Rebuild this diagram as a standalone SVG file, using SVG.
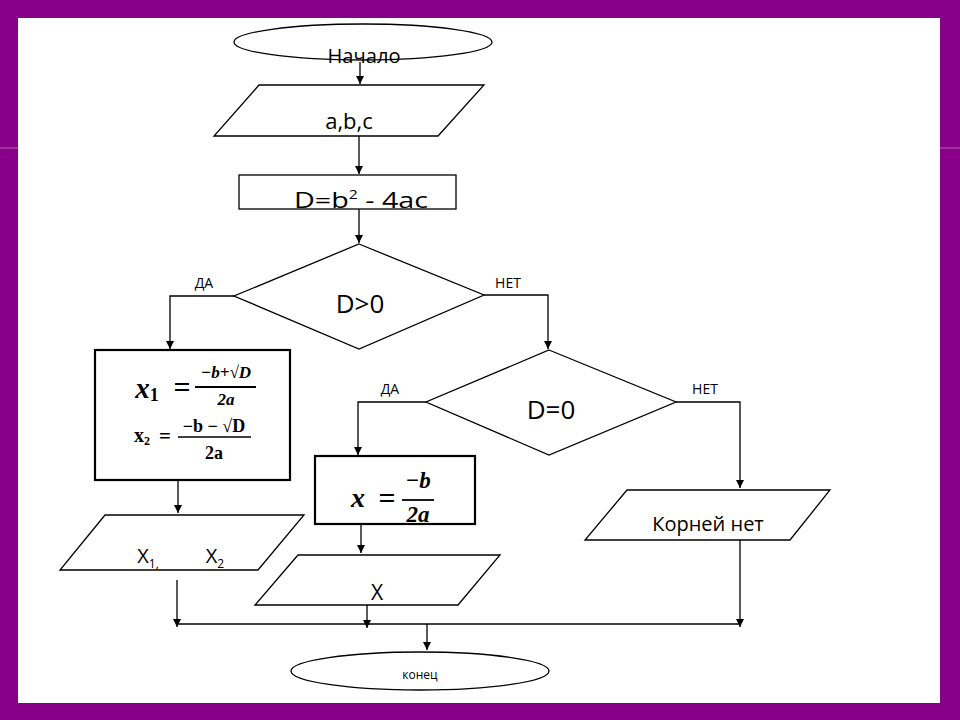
<svg xmlns="http://www.w3.org/2000/svg" width="960" height="720" viewBox="0 0 960 720">
<style>
.s{fill:#fff;stroke:#000;stroke-width:1.3}
.b{fill:#fff;stroke:#000;stroke-width:2.2}
.t{font-family:"Open Sans","Liberation Sans",sans-serif;fill:#000;text-anchor:middle}
.m{font-family:"Liberation Serif","DejaVu Serif",serif;font-weight:bold;fill:#000;text-anchor:middle}
.c{fill:none;stroke:#000;stroke-width:1.3}
</style>
<defs>
<marker id="ah" markerWidth="10" markerHeight="10" refX="8" refY="5" orient="auto" markerUnits="userSpaceOnUse">
<path d="M0,1 L8,5 L0,9 Z" fill="#000"/>
</marker>
</defs>
<rect x="0" y="0" width="960" height="720" fill="#880088"/>
<rect x="18" y="18" width="922" height="685" fill="#fff"/>
<line x1="0" y1="148" x2="18" y2="148" stroke="#b46ab4" stroke-width="1"/>
<line x1="940" y1="148" x2="960" y2="148" stroke="#b46ab4" stroke-width="1"/>

<g id="connectors">
<path class="c" d="M360,62 V84" marker-end="url(#ah)"/>
<path class="c" d="M359,136 V174" marker-end="url(#ah)"/>
<path class="c" d="M359,209 V243" marker-end="url(#ah)"/>
<path class="c" d="M234,296 H170 V349" marker-end="url(#ah)"/>
<path class="c" d="M484,295 H548 V349" marker-end="url(#ah)"/>
<path class="c" d="M178,480 V513" marker-end="url(#ah)"/>
<path class="c" d="M426,402 H358 V455" marker-end="url(#ah)"/>
<path class="c" d="M676,402 H740 V488" marker-end="url(#ah)"/>
<path class="c" d="M361,524 V553" marker-end="url(#ah)"/>
<path class="c" d="M177,580 V627" marker-end="url(#ah)"/>
<path class="c" d="M367,600 V628" marker-end="url(#ah)"/>
<path class="c" d="M740,540 V627" marker-end="url(#ah)"/>
<path class="c" d="M177,624 H740"/>
<path class="c" d="M427,624 V650" marker-end="url(#ah)"/>
<text class="t" x="204" y="288" font-size="14">ДА</text>
<text class="t" x="508" y="288" font-size="14">НЕТ</text>
<text class="t" x="390" y="394" font-size="14">ДА</text>
<text class="t" x="705" y="394" font-size="14">НЕТ</text>
</g>

<g id="start">
<ellipse class="s" cx="363" cy="42" rx="129" ry="18"/>
<text class="t" x="364" y="63" font-size="20" textLength="73" lengthAdjust="spacingAndGlyphs">Начало</text>
</g>

<g id="input">
<polygon class="s" points="259,85 484,85 438,136 214,136"/>
<text class="t" x="349" y="129" font-size="22">a,b,c</text>
</g>

<g id="calcD">
<rect class="s" x="239" y="175" width="217" height="34"/>
<text class="t" x="361" y="208" font-size="22" textLength="134" lengthAdjust="spacingAndGlyphs">D=b<tspan font-size="12" dy="-9">2</tspan><tspan dy="9"> - 4ac</tspan></text>
</g>

<g id="dec1">
<polygon class="s" points="359,244 484,295 359,349 234,296"/>
<text class="t" x="360" y="313" font-size="26">D&gt;0</text>
</g>

<g id="roots2">
<rect class="b" x="95" y="350" width="195" height="130"/>
<text class="m" x="147" y="398" font-size="29" font-style="italic">x<tspan font-size="18" font-style="normal" dy="3">1</tspan></text>
<text class="m" x="182" y="397" font-size="30">=</text>
<text class="m" x="226" y="378" font-size="17" font-style="italic">−b+√D</text>
<line x1="195" y1="387" x2="256" y2="387" stroke="#000" stroke-width="1.8"/>
<text class="m" x="226" y="405" font-size="17" font-style="italic">2a</text>
<text class="m" x="142" y="442" font-size="20">x<tspan font-size="12" dy="3">2</tspan></text>
<text class="m" x="165" y="443" font-size="21">=</text>
<text class="m" x="214" y="432" font-size="18">−b − √D</text>
<line x1="178" y1="437" x2="251" y2="437" stroke="#000" stroke-width="1.6"/>
<text class="m" x="214" y="459" font-size="18">2a</text>
</g>

<g id="out2">
<polygon class="s" points="105,515 304,515 258,570 60,570"/>
<text class="t" x="148" y="563" font-size="20">X<tspan font-size="12" dy="5">1,</tspan></text>
<text class="t" x="215" y="563" font-size="20">X<tspan font-size="12" dy="5">2</tspan></text>
</g>

<g id="dec2">
<polygon class="s" points="549,350 676,402 549,455 426,402"/>
<text class="t" x="551" y="419" font-size="26">D=0</text>
</g>

<g id="root1">
<rect class="b" x="315" y="456" width="160" height="68"/>
<text class="m" x="358" y="507" font-size="28" font-style="italic">x</text>
<text class="m" x="387" y="508" font-size="30">=</text>
<text class="m" x="418" y="488" font-size="23" font-style="italic">−b</text>
<line x1="402" y1="500" x2="434" y2="500" stroke="#000" stroke-width="1.8"/>
<text class="m" x="418" y="522" font-size="23" font-style="italic">2a</text>
</g>

<g id="out1">
<polygon class="s" points="298,555 500,555 458,605 255,605"/>
<text class="t" x="377" y="600" font-size="21">X</text>
</g>

<g id="noroots">
<polygon class="s" points="627,490 830,490 790,540 585,540"/>
<text class="t" x="708" y="531" font-size="20">Корней нет</text>
</g>

<g id="end">
<ellipse class="s" cx="420" cy="671" rx="129" ry="19"/>
<text class="t" x="420" y="679" font-size="12">конец</text>
</g>
</svg>
